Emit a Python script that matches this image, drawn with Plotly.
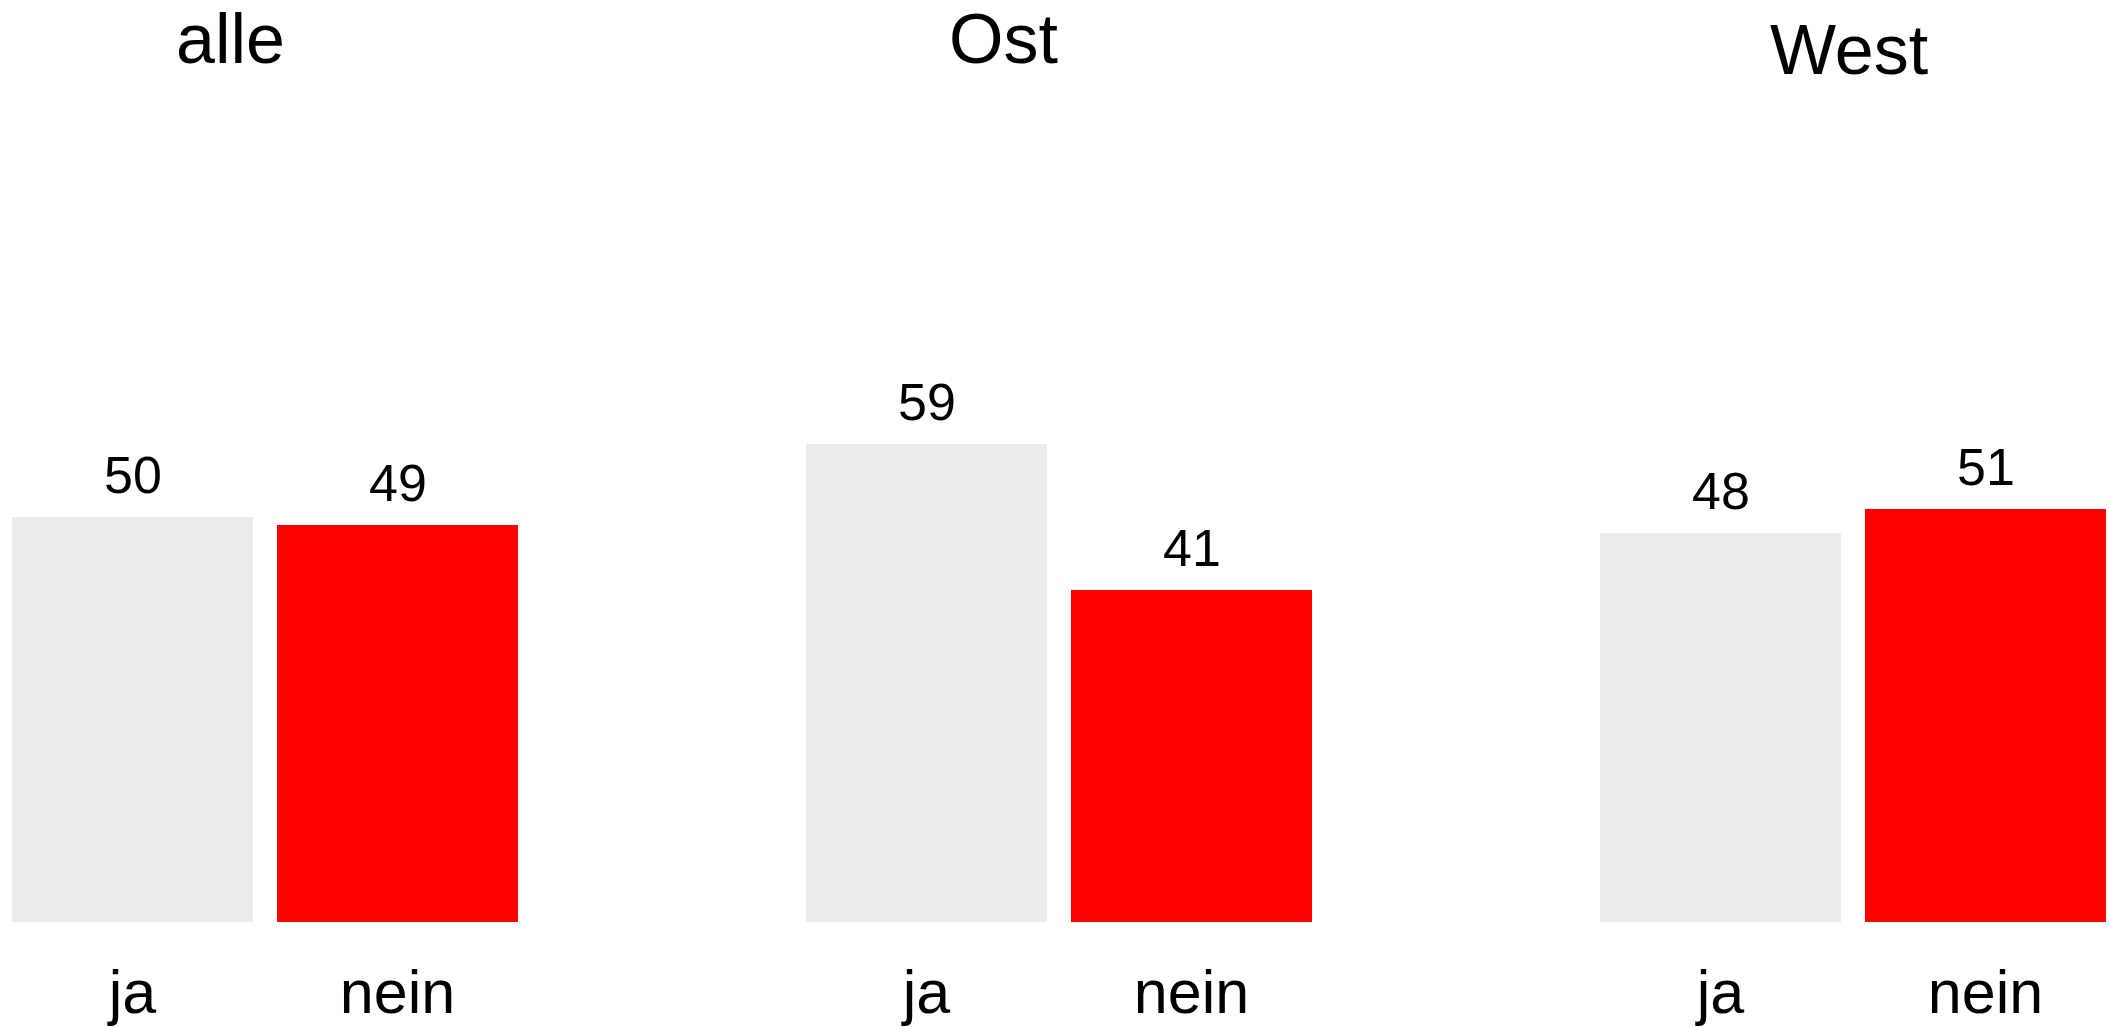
import plotly.graph_objects as go
from plotly.subplots import make_subplots

# ---- data ----
groups = ["alle", "Ost", "West"]
answers = ["ja", "nein"]
ja_values = [50, 59, 48]
nein_values = [49, 41, 51]

# ---- layout constants (pixels) ----
W, H = 2110, 1027
MT, MB = 0, 105
PLOT_H = H - MT - MB
PX_PER_UNIT = 8.1
SLOT = 265
GROUP_LEFT = [0, 794, 1588]
TITLE_X = [230.5, 1004, 1849]
TITLE_BASE = [64, 64, 75]
FONT = "Liberation Sans, Arial, Helvetica, sans-serif"
GREY = "#EBEBEB"
RED = "#FF0000"


def py(px):
    return (PLOT_H - (px - MT)) / PLOT_H


fig = make_subplots(rows=1, cols=3, horizontal_spacing=0)

for i, g in enumerate(groups):
    col = i + 1
    vals = [ja_values[i], nein_values[i]]
    fig.add_trace(
        go.Bar(x=answers, y=vals, marker=dict(color=[GREY, RED], line=dict(width=0)),
               showlegend=False, hoverinfo="x+y"),
        row=1, col=col,
    )
    left = GROUP_LEFT[i]
    right = left + 2 * SLOT
    rend = 1.5
    if right > W:
        rend = 1.5 - (right - W) / SLOT
        right = W
    fig.update_xaxes(domain=[left / W, right / W], range=[-0.5, rend],
                     showgrid=False, zeroline=False, showline=False, ticks="",
                     automargin=False,
                     tickfont=dict(size=61, color="black", family=FONT),
                     ticklabelstandoff=29, fixedrange=True, row=1, col=col)
    fig.update_yaxes(range=[0, PLOT_H / PX_PER_UNIT], visible=False,
                     automargin=False,
                     showgrid=False, zeroline=False, row=1, col=col)
    xref = "x" if col == 1 else f"x{col}"
    yref = "y" if col == 1 else f"y{col}"
    for a, v in zip(answers, vals):
        fig.add_annotation(x=a, y=v, xref=xref, yref=yref, text=str(v),
                           showarrow=False, yanchor="bottom", yshift=11,
                           font=dict(size=52, color="black", family=FONT))
    fig.add_annotation(x=TITLE_X[i] / W, y=py(TITLE_BASE[i] + 0.212 * 70 + 1),
                       xref="paper", yref="paper", text=g, showarrow=False,
                       xanchor="center", yanchor="bottom",
                       font=dict(size=70, color="black", family=FONT))

fig.update_layout(
    width=W, height=H,
    margin=dict(l=0, r=0, t=MT, b=MB, pad=0, autoexpand=False),
    paper_bgcolor="white", plot_bgcolor="white",
    bargap=24 / SLOT,
    font=dict(family=FONT, color="black"),
)

fig.write_html(
    "out.html",
    config={"displayModeBar": False},
    post_script="document.body.style.margin='0';document.body.style.overflow='hidden';",
)
